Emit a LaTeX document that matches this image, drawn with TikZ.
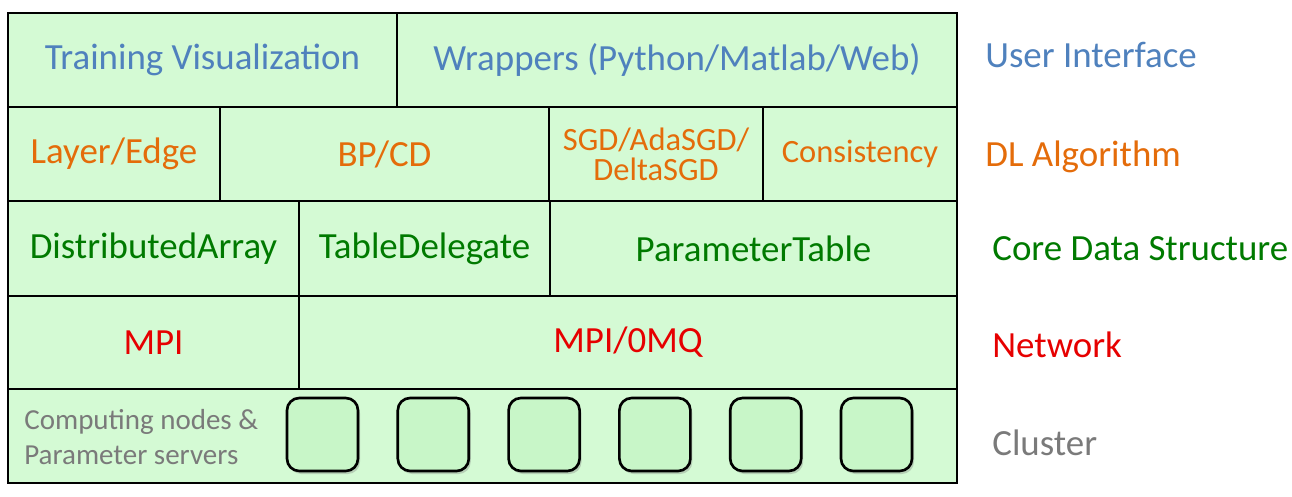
\documentclass[tikz,border=0pt]{standalone}
\usepackage{fontspec}
\setmainfont{Carlito}
\usetikzlibrary{shadows}

\definecolor{boxfill}{RGB}{212,250,212}
\definecolor{nodefill}{RGB}{200,246,200}
\definecolor{uiblue}{RGB}{79,129,189}
\definecolor{dlorange}{RGB}{228,108,10}
\definecolor{coregreen}{RGB}{0,122,0}
\definecolor{netred}{RGB}{230,0,0}
\definecolor{clgray}{RGB}{122,122,122}

\begin{document}
\begin{tikzpicture}[
    layer/.style = {draw, line width=1.1pt, fill=boxfill, inner sep=0pt, minimum height=1.88cm, font=\fontsize{21}{25}\selectfont},
    machine/.style = {draw, line width=1.5pt, rounded corners=7pt, fill=nodefill, minimum width=1.42cm, minimum height=1.46cm, drop shadow={opacity=0.35, shadow xshift=0.4mm, shadow yshift=-0.6mm}},
    side/.style = {anchor=base west, inner sep=0pt, font=\fontsize{21}{25}\selectfont}]

    \useasboundingbox (0,0) rectangle (25.84,-9.92);

    % user interface
    \node[layer, minimum width=7.78cm, text=uiblue] (vis) at (4.05,-1.20) {Training Visualization};
    \node[layer, minimum width=11.20cm, text=uiblue] (wrap) at (13.54,-1.20) {Wrappers (Python/Matlab/Web)};

    % dl algorithm
    \node[layer, minimum width=4.24cm, text=dlorange] (edge) at (2.28,-3.08) {Layer/Edge};
    \node[layer, minimum width=6.58cm, text=dlorange] (bpcd) at (7.69,-3.08) {BP/CD};
    \node[layer, minimum width=4.28cm, text=dlorange, align=center, font=\fontsize{18.5}{17}\selectfont] (sgd) at (13.12,-3.08) {SGD/AdaSGD/\\DeltaSGD};
    \node[layer, minimum width=3.88cm, text=dlorange, font=\fontsize{18.5}{17}\selectfont] (cons) at (17.20,-3.08) {Consistency};

    % core data structure
    \node[layer, minimum width=5.82cm, minimum height=1.90cm, text=coregreen] (darray) at (3.07,-4.97) {DistributedArray};
    \node[layer, minimum width=5.02cm, minimum height=1.90cm, text=coregreen] (tdel) at (8.49,-4.97) {TableDelegate};
    \node[layer, minimum width=8.14cm, minimum height=1.90cm, text=coregreen] (ptable) at (15.07,-4.97) {ParameterTable};

    % network
    \node[layer, minimum width=5.82cm, minimum height=1.86cm, text=netred] (mpi) at (3.07,-6.85) {MPI};
    \node[layer, minimum width=13.16cm, minimum height=1.86cm, text=netred] (zmq) at (12.56,-6.85) {MPI/0MQ};

    % cluster
    \node[layer, minimum width=18.98cm] (cluster) at (9.65,-8.72) {};
    \node[anchor=west, align=left, inner sep=0pt, text=clgray, font=\fontsize{16.5}{20}\selectfont] (cltext) at (0.48,-8.74) {Computing nodes \&\\Parameter servers};
    \foreach \i in {0,...,5}
        \node[machine] (m\i) at (6.45+2.216*\i,-8.69) {};

    \node[side, text=uiblue] (uilab) at (19.70,-1.34) {User Interface};
    \node[side, text=dlorange] (dllab) at (19.70,-3.32) {DL Algorithm};
    \node[side, text=coregreen] (corelab) at (19.84,-5.20) {Core Data Structure};
    \node[side, text=netred] (netlab) at (19.84,-7.14) {Network};
    \node[side, text=clgray] (cllab) at (19.84,-9.10) {Cluster};
\end{tikzpicture}
\end{document}
